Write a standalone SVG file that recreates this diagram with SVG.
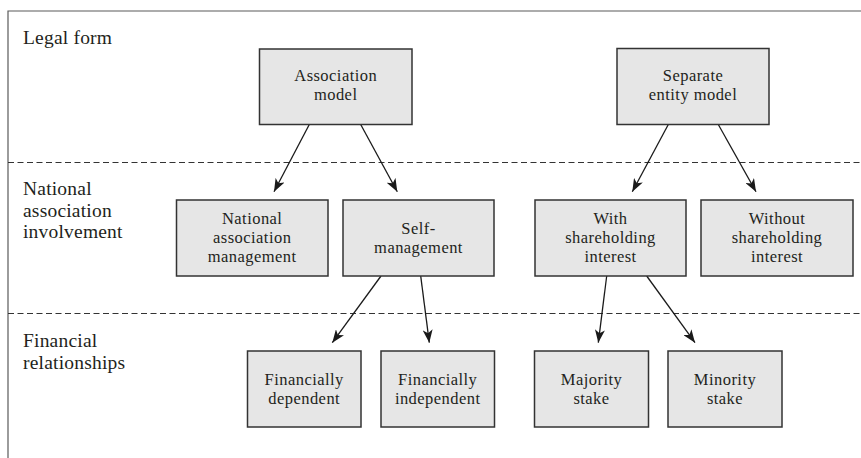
<svg xmlns="http://www.w3.org/2000/svg" width="861" height="458" viewBox="0 0 861 458">
<defs>
<style>
.frame{stroke:#5a5a5a;stroke-width:1.2;fill:none}
.dash{stroke:#333;stroke-width:1;stroke-dasharray:6 3.5;fill:none}
.box{fill:#e6e6e6;stroke:#333;stroke-width:1.5}
.t{font-family:'Liberation Serif','DejaVu Serif',serif;font-size:16.5px;letter-spacing:0.45px;fill:#231f20;text-anchor:middle}
.lab{font-family:'Liberation Serif','DejaVu Serif',serif;font-size:19.5px;letter-spacing:0.2px;fill:#231f20}
.conn{stroke:#1a1a1a;stroke-width:1.3;fill:none;marker-end:url(#arr)}
</style>
<marker id="arr" viewBox="0 0 13 10" refX="13" refY="5" markerWidth="13" markerHeight="10" markerUnits="userSpaceOnUse" orient="auto">
<path d="M0,0 L13,5 L0,10 L3.5,5 z" fill="#1a1a1a"/>
</marker>
</defs>
<g id="frame">
<path class="frame" d="M8,458 L8,11 L861,11"/>
<line class="dash" x1="8" y1="162.5" x2="861" y2="162.5"/>
<line class="dash" x1="8" y1="313.5" x2="861" y2="313.5"/>
</g>
<g id="labels">
<text class="lab" x="23" y="44">Legal form</text>
<text class="lab" x="23" y="195">National</text>
<text class="lab" x="23" y="216.5">association</text>
<text class="lab" x="23" y="238">involvement</text>
<text class="lab" x="23" y="347">Financial</text>
<text class="lab" x="23" y="368.5">relationships</text>
</g>
<g id="connectors">
<line class="conn" x1="309.3" y1="124.5" x2="274" y2="191.7"/>
<line class="conn" x1="360.7" y1="124.5" x2="397.3" y2="191.7"/>
<line class="conn" x1="668.3" y1="124.5" x2="632.3" y2="191.7"/>
<line class="conn" x1="718.3" y1="124.5" x2="756" y2="191.7"/>
<line class="conn" x1="381" y1="276" x2="332.3" y2="342.7"/>
<line class="conn" x1="420.7" y1="276" x2="429.3" y2="342.7"/>
<line class="conn" x1="606.7" y1="276" x2="598.3" y2="342.7"/>
<line class="conn" x1="646.7" y1="276" x2="695" y2="342.7"/>
</g>
<g id="association-model">
<rect class="box" x="259.5" y="49" width="152.5" height="75.5"/>
<text class="t" x="335.7" y="81">Association</text>
<text class="t" x="335.7" y="100">model</text>
</g>
<g id="separate-entity-model">
<rect class="box" x="617" y="48.5" width="152" height="76"/>
<text class="t" x="693" y="81">Separate</text>
<text class="t" x="693" y="100">entity model</text>
</g>
<g id="national-association-management">
<rect class="box" x="176.5" y="200" width="151.5" height="76"/>
<text class="t" x="252.2" y="224">National</text>
<text class="t" x="252.2" y="243">association</text>
<text class="t" x="252.2" y="262">management</text>
</g>
<g id="self-management">
<rect class="box" x="343" y="200" width="151" height="76"/>
<text class="t" x="418.5" y="233.5">Self-</text>
<text class="t" x="418.5" y="252.5">management</text>
</g>
<g id="with-shareholding-interest">
<rect class="box" x="535" y="200" width="151" height="76"/>
<text class="t" x="610.5" y="224">With</text>
<text class="t" x="610.5" y="243">shareholding</text>
<text class="t" x="610.5" y="262">interest</text>
</g>
<g id="without-shareholding-interest">
<rect class="box" x="701" y="200" width="152" height="76"/>
<text class="t" x="777" y="224">Without</text>
<text class="t" x="777" y="243">shareholding</text>
<text class="t" x="777" y="262">interest</text>
</g>
<g id="financially-dependent">
<rect class="box" x="247.5" y="351" width="113.5" height="76"/>
<text class="t" x="304.2" y="384.5">Financially</text>
<text class="t" x="304.2" y="403.5">dependent</text>
</g>
<g id="financially-independent">
<rect class="box" x="381" y="351" width="113.5" height="76"/>
<text class="t" x="437.7" y="384.5">Financially</text>
<text class="t" x="437.7" y="403.5">independent</text>
</g>
<g id="majority-stake">
<rect class="box" x="534.5" y="351" width="114" height="76"/>
<text class="t" x="591.5" y="384.5">Majority</text>
<text class="t" x="591.5" y="403.5">stake</text>
</g>
<g id="minority-stake">
<rect class="box" x="668" y="351" width="114" height="76"/>
<text class="t" x="725" y="384.5">Minority</text>
<text class="t" x="725" y="403.5">stake</text>
</g>
</svg>
